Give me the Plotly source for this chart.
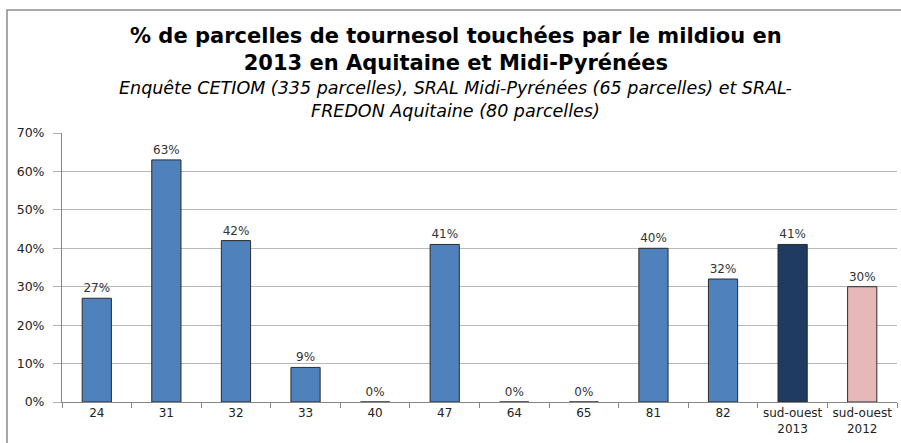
import plotly.graph_objects as go

categories = ["24", "31", "32", "33", "40", "47", "64", "65", "81", "82", "sud-ouest<br>2013", "sud-ouest<br>2012"]
values = [0.27, 0.63, 0.42, 0.09, 0.0, 0.41, 0.0, 0.0, 0.40, 0.32, 0.41, 0.30]
bar_colors = ["#4F81BD"] * 10 + ["#1F3B61", "#E6B9B8"]
y_ticks = [0, 0.1, 0.2, 0.3, 0.4, 0.5, 0.6, 0.7]

title_lines = ["% de parcelles de tournesol touchées par le mildiou en",
               "2013 en Aquitaine et Midi-Pyrénées"]
sub_lines = ["Enquête CETIOM (335 parcelles), SRAL Midi-Pyrénées (65 parcelles) et SRAL-",
             "FREDON Aquitaine (80 parcelles)"]

L, R, T, B = 62, 4, 133, 41
W, H = 901, 443
PW, PH = W - L - R, H - T - B

fig = go.Figure()
fig.add_trace(go.Bar(
    x=categories, y=values,
    marker=dict(color=bar_colors, line=dict(color="#2b2b2b", width=1)),
    width=0.42,
    texttemplate="%{y:.0%}", textposition="outside",
    textfont=dict(family="DejaVu Sans", size=12, color="#333333"),
    cliponaxis=False,
))

fig.update_layout(
    width=W, height=H,
    margin=dict(l=L, r=R, t=T, b=B, autoexpand=False),
    paper_bgcolor="white", plot_bgcolor="white",
    showlegend=False,
    xaxis=dict(
        type="category", showgrid=False, showline=True, linecolor="#868686", linewidth=1,
        ticks="outside", tickson="boundaries", ticklen=5, tickcolor="#868686",
        tickangle=0, automargin=False,
        tickfont=dict(family="DejaVu Sans", size=12, color="#222222"),
    ),
    yaxis=dict(
        range=[0, 0.7], tickvals=y_ticks, tickformat=".0%",
        showgrid=True, gridcolor="#B8B8B8", gridwidth=1,
        showline=True, linecolor="#868686", linewidth=1,
        ticks="outside", ticklen=8, tickcolor="#B0B0B0", ticklabelstandoff=6,
        automargin=False,
        tickfont=dict(family="DejaVu Sans", size=12.5, color="#222222"),
        zeroline=False,
    ),
    shapes=[dict(type="rect", xref="paper", yref="paper", x0=(7 - L) / PW, x1=1.2,
                 y0=-0.5, y1=(H - B - 10) / PH, line=dict(color="#8C8C8C", width=1.5), layer="below")],
)

ann = [
    dict(text="<br>".join(f"<b>{t}</b>" for t in title_lines), x=456, y=49,
         font=dict(family="DejaVu Sans", size=21, color="black")),
    dict(text="<br>".join(f"<i>{t}</i>" for t in sub_lines), x=455, y=100,
         font=dict(family="DejaVu Sans", size=17.5, color="black")),
]
for a in ann:
    fig.add_annotation(text=a["text"], xref="paper", yref="paper",
                       x=(a["x"] - L) / PW, y=(H - B - a["y"]) / PH,
                       xanchor="center", yanchor="middle", showarrow=False, font=a["font"])

fig.write_html("out.html", config={"displayModeBar": False},
               post_script="document.body.style.margin='0';document.body.style.overflow='hidden';")
